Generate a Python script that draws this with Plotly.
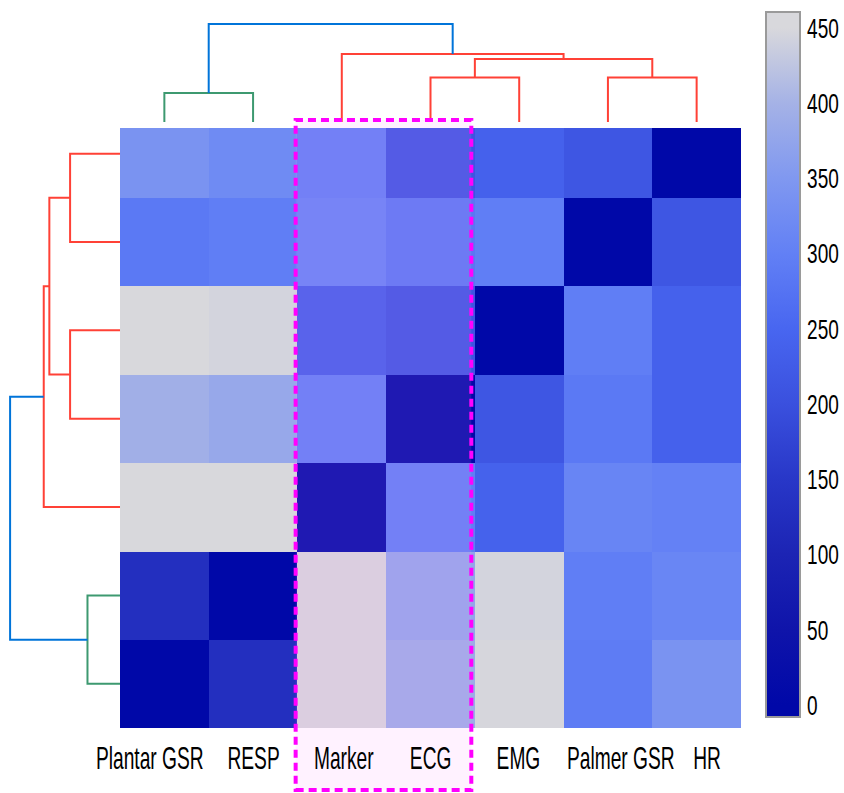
import plotly.graph_objects as go

# ---------------- data ----------------
col_labels = ["Plantar GSR", "RESP", "Marker", "ECG", "EMG", "Palmer GSR", "HR"]
row_labels = ["HR", "Palmer GSR", "EMG", "ECG", "Marker", "RESP", "Plantar GSR"]

# distance values, rows top -> bottom, columns left -> right
z_HR = [340, 322, 297, 210, 238, 213, 0]
z_PalmerGSR = [287, 297, 305, 283, 297, 0, 213]
z_EMG = [450, 445, 230, 210, 0, 297, 238]
z_ECG = [395, 381, 297, 0, 213, 287, 238]
z_Marker = [450, 450, 0, 297, 240, 310, 303]
z_RESP = [128, 0, 448, 375, 445, 297, 312]
z_PlantarGSR = [0, 128, 448, 388, 448, 293, 340]

# hierarchical linkage: member a, member b, merge height
link_a = ["ECG", "Palmer GSR", "L0", "Marker", "Plantar GSR", "L4"]
link_b = ["EMG", "HR", "L1", "L2", "RESP", "L3"]
link_h = [44.5, 44.5, 63, 68, 29, 98]
link_color = ["rgb(255,65,54)"] * 4 + ["rgb(61,153,112)", "rgb(0,116,217)"]

highlight = ["Marker", "ECG"]

cbar_ticks = [0, 50, 100, 150, 200, 250, 300, 350, 400, 450]
scale_vals = [0, 50, 100, 150, 200, 250, 300, 350, 400, 450]
scale_cols = ["rgb(0,8,168)", "rgb(15,20,170)", "rgb(28,36,180)", "rgb(40,55,200)",
              "rgb(58,80,222)", "rgb(72,102,240)", "rgb(98,128,245)", "rgb(128,152,240)",
              "rgb(165,178,230)", "rgb(216,216,220)"]

# ---------------- style ----------------
W, H = 844, 793
FONT = "Liberation Sans, Arial, sans-serif"
zmin, zmax = -8, 460.6
label_shift_px = [-14, 0, 2, 0, -1, 13, 10]   # horizontal nudges of the column labels

z = [z_HR, z_PalmerGSR, z_EMG, z_ECG, z_Marker, z_RESP, z_PlantarGSR]

colorscale = [[0, scale_cols[0]]]
for v, c in zip(scale_vals, scale_cols):
    colorscale.append([(v - zmin) / (zmax - zmin), c])
colorscale.append([1, scale_cols[-1]])

fig = go.Figure()
fig.add_trace(go.Heatmap(
    z=z, x=list(range(len(col_labels))), y=list(range(len(row_labels))),
    zmin=zmin, zmax=zmax, colorscale=colorscale,
    colorbar=dict(x=766 / W, xanchor="left", xpad=0, y=(H - 12) / H, yanchor="top", ypad=0,
                  lenmode="pixels", len=705, thickness=34, outlinewidth=2,
                  outlinecolor="#9a9a9a", tickvals=cbar_ticks, ticks="",
                  tickfont=dict(family=FONT, size=28, color="black")),
    hoverinfo="skip", xaxis="x", yaxis="y"))


def dendro_segments(pos):
    node_pos = dict(pos)
    node_h = {k: 0.0 for k in pos}
    segs = []
    for i, (a, b, h) in enumerate(zip(link_a, link_b, link_h)):
        pa, pb = node_pos[a], node_pos[b]
        segs.append(([pa, pa, pb, pb], [node_h[a], h, h, node_h[b]], link_color[i]))
        node_pos["L%d" % i] = (pa + pb) / 2
        node_h["L%d" % i] = h
    return segs


# top dendrogram (columns)
col_pos = {lab: i for i, lab in enumerate(col_labels)}
for xs, hs, c in dendro_segments(col_pos):
    fig.add_trace(go.Scatter(x=xs, y=hs, mode="lines", line=dict(color=c, width=2),
                             hoverinfo="skip", xaxis="x", yaxis="y2"))

# left dendrogram (rows)
row_pos = {lab: i for i, lab in enumerate(row_labels)}
for ys, hs, c in dendro_segments(row_pos):
    fig.add_trace(go.Scatter(x=hs, y=ys, mode="lines", line=dict(color=c, width=2),
                             hoverinfo="skip", xaxis="x3", yaxis="y"))

# highlight box
i0 = col_labels.index(highlight[0])
i1 = col_labels.index(highlight[-1])
fig.add_shape(type="rect", xref="x", yref="paper",
              x0=i0 - 0.52, x1=i1 + 0.46, y0=(H - 790) / H, y1=(H - 120) / H,
              line=dict(color="#ff00ff", width=4, dash="8px,5px"),
              fillcolor="rgba(255,150,255,0.12)", layer="above")

# column labels
for i, lab in enumerate(col_labels):
    fig.add_annotation(x=i, xref="x", y=(H - 758) / H, yref="paper",
                       text=lab, showarrow=False, xanchor="center", yanchor="middle",
                       xshift=label_shift_px[i],
                       font=dict(family=FONT, size=32, color="black"))

fig.update_layout(
    width=W, height=H, margin=dict(l=0, r=0, t=0, b=0, autoexpand=False),
    paper_bgcolor="white", plot_bgcolor="white", showlegend=False,
    font=dict(family=FONT, size=28, color="black"),
    xaxis=dict(domain=[120 / W, 741 / W], range=[-0.5, 6.5], anchor="y",
               showticklabels=False, automargin=False,
               ticks="", showgrid=False, zeroline=False, showline=False),
    yaxis=dict(domain=[65 / H, 665 / H], range=[6.5, -0.29], showticklabels=False,
               automargin=False,
               ticks="", showgrid=False, zeroline=False, showline=False),
    yaxis2=dict(domain=[(H - 122) / H, 1], range=[0, 122], anchor="x", visible=False),
    xaxis3=dict(domain=[0, 120 / W], range=[107, 0], anchor="y", visible=False),
)

# condensed lettering, as in the reference (text stays real SVG text)
post = """
(function(){
  var gd = document.getElementById('{plot_id}');
  function squeeze(sel, s){
    gd.querySelectorAll(sel).forEach(function(t){
      var tr = t.getAttribute('transform') || '';
      if (tr.indexOf('scale(') >= 0) return;
      var x = parseFloat(t.getAttribute('x') || '0');
      t.setAttribute('transform', tr + ' translate(' + x + ',0) scale(' + s + ',1) translate(' + (-x) + ',0)');
    });
  }
  function condense(){
    squeeze('.annotation-text', 0.6);
    squeeze('.colorbar text', 0.68);
  }
  condense();
  gd.on('plotly_afterplot', condense);
  setTimeout(condense, 0);
})();
"""

fig.write_html("out.html", post_script=post)
